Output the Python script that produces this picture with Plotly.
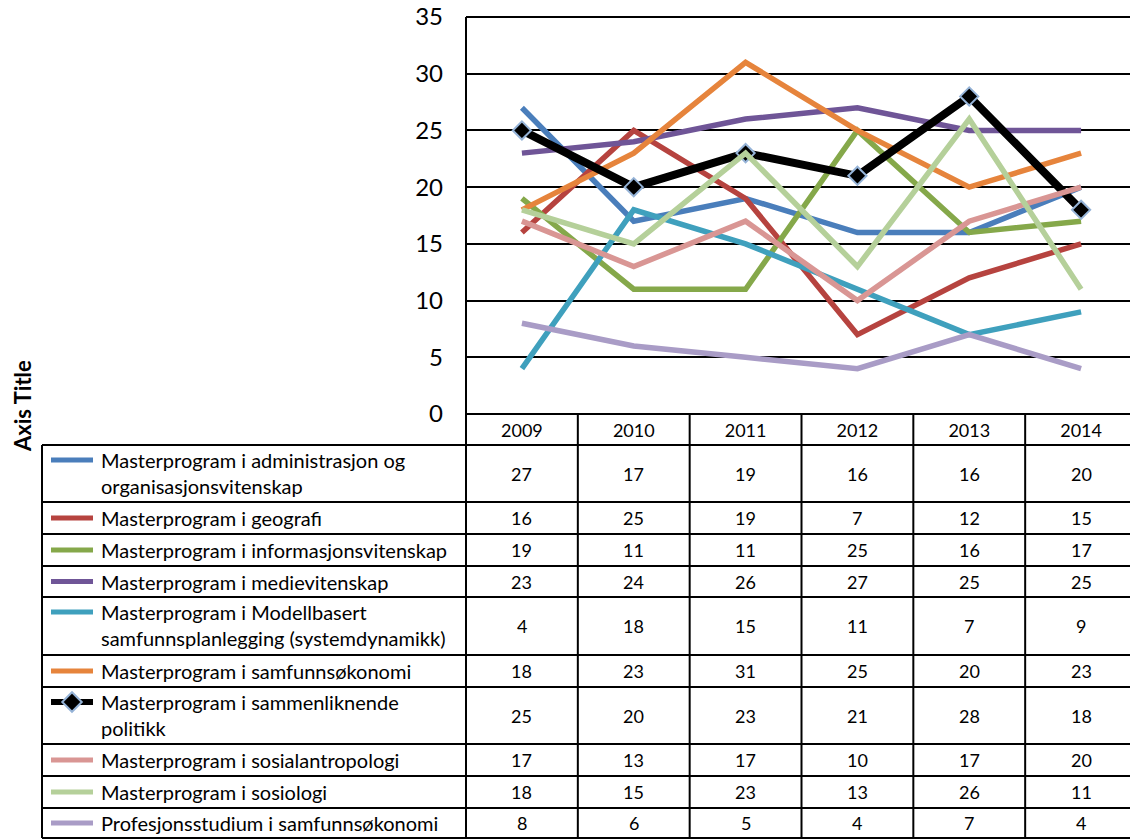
import plotly.graph_objects as go

# ---------------- data ----------------
years = ["2009", "2010", "2011", "2012", "2013", "2014"]
names = [
    "Masterprogram i administrasjon og\norganisasjonsvitenskap",
    "Masterprogram i geografi",
    "Masterprogram i informasjonsvitenskap",
    "Masterprogram i medievitenskap",
    "Masterprogram i Modellbasert\nsamfunnsplanlegging (systemdynamikk)",
    "Masterprogram i samfunnsøkonomi",
    "Masterprogram i sammenliknende\npolitikk",
    "Masterprogram i sosialantropologi",
    "Masterprogram i sosiologi",
    "Profesjonsstudium i samfunnsøkonomi",
]
administrasjon = [27, 17, 19, 16, 16, 20]
geografi = [16, 25, 19, 7, 12, 15]
informasjon = [19, 11, 11, 25, 16, 17]
medie = [23, 24, 26, 27, 25, 25]
modellbasert = [4, 18, 15, 11, 7, 9]
samfunnsokonomi = [18, 23, 31, 25, 20, 23]
sammenliknende = [25, 20, 23, 21, 28, 18]
sosialantropologi = [17, 13, 17, 10, 17, 20]
sosiologi = [18, 15, 23, 13, 26, 11]
profesjon = [8, 6, 5, 4, 7, 4]
y_ticks = [0, 5, 10, 15, 20, 25, 30, 35]
axis_title = "Axis Title"

series = [administrasjon, geografi, informasjon, medie, modellbasert,
          samfunnsokonomi, sammenliknende, sosialantropologi, sosiologi, profesjon]

# ---------------- style ----------------
colors = ["#4A7EBB", "#B6433F", "#85A84A", "#6F5597", "#3FA0BD",
          "#E6843C", "#000000", "#D99694", "#B5D09A", "#A99CC6"]
FONT = "Lato"
OFF = 8                      # default page body margin
W, H = 1138 - OFF, 840 - OFF

def px(x):
    return (x - OFF) / W

def py(y):
    return 1 - (y - OFF) / H

plot_left, plot_right = 466, 1137
plot_top, plot_bottom = 17, 414
Y_MAX, Y_PAD = 35, 0.4
unit_px = (plot_bottom - plot_top) / Y_MAX
header_bottom = 445
table_left = 42
row_edges = [445, 502, 534, 566, 597, 655, 687, 744, 776, 808, 838]

fig = go.Figure()

for i, (nm, vals) in enumerate(zip(names, series)):
    is_black = colors[i] == "#000000"
    fig.add_trace(go.Scatter(
        x=years, y=vals, mode="lines+markers" if is_black else "lines",
        name=nm.replace("\n", " "),
        line=dict(color=colors[i], width=8 if is_black else 5.5),
        marker=dict(symbol="diamond", size=14, color="black",
                    line=dict(color="#95B3D7", width=2)) if is_black else None,
        showlegend=False, hoverinfo="skip",
    ))

annotations = []
shapes = []

for i, (nm, vals) in enumerate(zip(names, series)):
    top, bot = row_edges[i], row_edges[i + 1]
    lines = nm.split("\n")
    if len(lines) == 1:
        centers = [(top + bot) / 2]
    else:
        centers = [top + 15, top + 41]
    key_y = centers[0]
    is_black = colors[i] == "#000000"
    fig.add_trace(go.Scatter(
        x=[51 - OFF, 93 - OFF], y=[key_y - OFF, key_y - OFF], mode="lines",
        xaxis="x2", yaxis="y2",
        line=dict(color=colors[i], width=6 if is_black else 5),
        showlegend=False, hoverinfo="skip",
    ))
    if is_black:
        fig.add_trace(go.Scatter(
            x=[72 - OFF], y=[key_y - OFF], mode="markers", xaxis="x2", yaxis="y2",
            marker=dict(symbol="diamond", size=15, color="black",
                        line=dict(color="#95B3D7", width=2)),
            showlegend=False, hoverinfo="skip",
        ))
    for ln, cy in zip(lines, centers):
        annotations.append(dict(
            x=px(99), y=py(cy), xref="paper", yref="paper", text=ln,
            showarrow=False, xanchor="left", yanchor="middle",
            font=dict(family=FONT, size=20, color="black"),
        ))
    for j, v in enumerate(vals):
        annotations.append(dict(
            x=j, y=py((top + bot) / 2), xref="x", yref="paper", text=str(v),
            showarrow=False, xanchor="center", yanchor="middle",
            font=dict(family=FONT, size=18, color="black"),
        ))

annotations.append(dict(
    x=px(22), y=py(406), xref="paper", yref="paper", text="<b>%s</b>" % axis_title,
    textangle=-90, showarrow=False, xanchor="center", yanchor="middle",
    font=dict(family=FONT, size=22, color="black"),
))

LW = 2
for e in row_edges[1:]:
    shapes.append(dict(type="line", xref="paper", yref="paper",
                       x0=px(table_left), x1=px(plot_right), y0=py(e), y1=py(e),
                       line=dict(color="black", width=LW)))
shapes.append(dict(type="line", xref="paper", yref="paper",
                   x0=px(table_left), x1=px(plot_right), y0=py(header_bottom), y1=py(header_bottom),
                   line=dict(color="black", width=LW)))
shapes.append(dict(type="line", xref="paper", yref="paper",
                   x0=px(plot_left), x1=px(plot_right), y0=py(plot_bottom), y1=py(plot_bottom),
                   line=dict(color="black", width=LW)))
shapes.append(dict(type="line", xref="paper", yref="paper",
                   x0=px(table_left), x1=px(table_left), y0=py(header_bottom), y1=py(row_edges[-1]),
                   line=dict(color="black", width=LW)))
shapes.append(dict(type="line", xref="paper", yref="paper",
                   x0=px(plot_left), x1=px(plot_left), y0=py(plot_top), y1=py(row_edges[-1]),
                   line=dict(color="black", width=LW)))
for k in range(1, len(years) + 1):
    shapes.append(dict(type="line", xref="x", yref="paper",
                       x0=k - 0.5, x1=k - 0.5, y0=py(plot_bottom), y1=py(row_edges[-1]),
                       line=dict(color="black", width=LW)))

fig.update_layout(
    width=W, height=H, margin=dict(l=0, r=0, t=0, b=0, autoexpand=False),
    paper_bgcolor="white", plot_bgcolor="rgba(0,0,0,0)",
    xaxis=dict(domain=[px(plot_left), px(plot_right)], type="category",
               range=[-0.5, len(years) - 0.5],
               showgrid=False, zeroline=False, showline=False, ticks="", automargin=False,
               tickfont=dict(family=FONT, size=18, color="black"), ticklabelstandoff=4),
    yaxis=dict(domain=[py(plot_bottom), py(plot_top - Y_PAD * unit_px)],
               range=[0, Y_MAX + Y_PAD], tickvals=y_ticks, ticklabeloverflow="allow",
               showgrid=True, gridcolor="black", gridwidth=2, zeroline=False, automargin=False,
               showline=False, ticks="", ticklabelstandoff=22,
               tickfont=dict(family=FONT, size=24, color="black")),
    xaxis2=dict(domain=[0, 1], range=[0, W], visible=False, anchor="y2", automargin=False),
    yaxis2=dict(domain=[0, 1], range=[H, 0], visible=False, anchor="x2", automargin=False),
    annotations=annotations, shapes=shapes,
)

fig.write_html("out.html")
